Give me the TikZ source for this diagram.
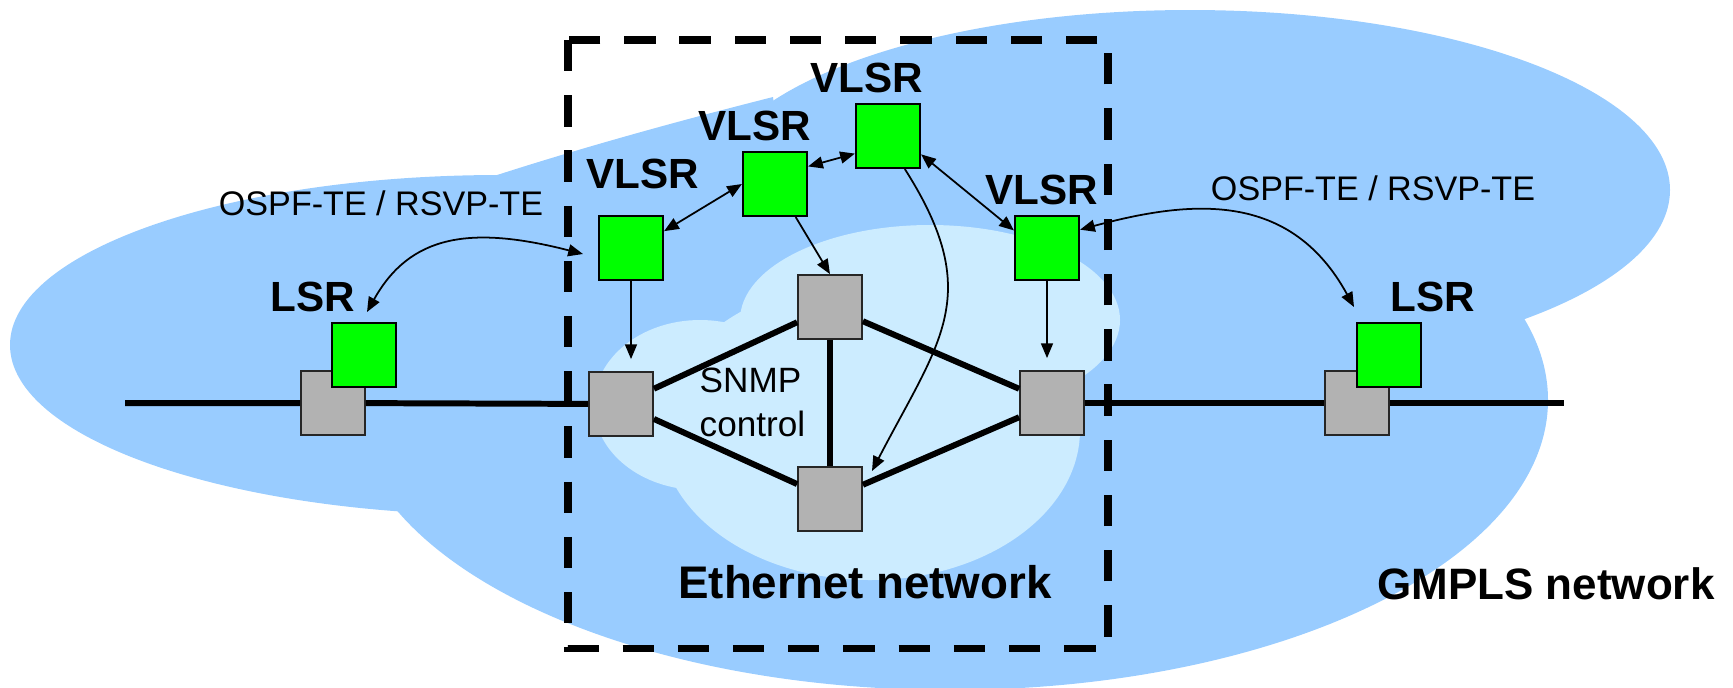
\documentclass[tikz,border=0pt]{standalone}
\usepackage{fontspec}
\setmainfont{Liberation Sans}
\usetikzlibrary{arrows.meta}

\definecolor{gmplsblue}{HTML}{99CCFF}
\definecolor{etherblue}{HTML}{CCECFF}
\definecolor{switchgray}{HTML}{B2B2B2}
\definecolor{routergreen}{HTML}{00FF00}

\tikzset{
  switchbox/.style={draw=black!85, fill=switchgray, line width=0.5pt,
    minimum size=0.64cm, inner sep=0pt},
  routerbox/.style={draw=black, fill=routergreen, line width=0.6pt,
    minimum size=0.64cm, inner sep=0pt},
  boxlabel/.style={font=\fontsize{12}{14}\selectfont\bfseries, anchor=base, inner sep=0pt},
  netlabel/.style={font=\fontsize{12.5}{15}\selectfont\bfseries, anchor=base, inner sep=0pt},
  protolabel/.style={font=\fontsize{9.7}{12}\selectfont, anchor=base, inner sep=0pt},
  link/.style={line width=1.7pt},
  ctrl/.style={line width=0.5pt},
  >={Triangle[length=4.2pt,width=3.4pt]}
}

\begin{document}
\begin{tikzpicture}[x=0.01cm, y=-0.01cm]

    \useasboundingbox (0,0) rectangle (1733,687);
    \clip (0,0) rectangle (1733,687);

    % GMPLS cloud
    \fill[gmplsblue] (500,345) ellipse [x radius=490, y radius=170];
    \fill[gmplsblue] (1190,190) ellipse [x radius=480, y radius=180];
    \fill[gmplsblue] (950,400) ellipse [x radius=598, y radius=290];
    \fill[gmplsblue] (494,176) .. controls (590,145) and (690,118) .. (773,97)
        -- (800,300) -- (500,300) -- cycle;

    % Ethernet cloud
    \fill[etherblue] (700,405) ellipse [x radius=106, y radius=85];
    \fill[etherblue] (930,320) ellipse [x radius=190, y radius=95];
    \fill[etherblue] (870,430) ellipse [x radius=210, y radius=150];

    % dashed border of the Ethernet part
    \draw[line width=2pt, dash pattern=on 8.9pt off 6.8pt] (568,40) rectangle (1108,648);

    % switches
    \node[switchbox] (gl) at (333,403) {};
    \node[switchbox] (e1) at (621,404) {};
    \node[switchbox] (e2) at (830,307) {};
    \node[switchbox] (e3) at (830,499) {};
    \node[switchbox] (e4) at (1052,403) {};
    \node[switchbox] (gr) at (1357,403) {};

    % routers
    \node[routerbox] (ll) at (364,355) {};
    \node[routerbox] (lr) at (1389,355) {};
    \node[routerbox] (v1) at (631,248) {};
    \node[routerbox] (v2) at (775,184) {};
    \node[routerbox] (v3) at (888,136) {};
    \node[routerbox] (v4) at (1047,248) {};

    % labels
    \node[boxlabel] (v1lab) at (643,188) {VLSR};
    \node[boxlabel] (v2lab) at (755,140) {VLSR};
    \node[boxlabel] (v3lab) at (867,92) {VLSR};
    \node[boxlabel] (v4lab) at (1042,204) {VLSR};
    \node[boxlabel] (lllab) at (313,311) {LSR};
    \node[boxlabel] (lrlab) at (1433,311) {LSR};
    \node[protolabel] (pl) at (381,215) {OSPF-TE / RSVP-TE};
    \node[protolabel] (pr) at (1373,200) {OSPF-TE / RSVP-TE};
    \node[font=\fontsize{10}{12.5}\selectfont, align=left, anchor=base west, inner sep=0pt]
        (snmp) at (699,436) {SNMP\\control};
    \node[netlabel, font=\fontsize{13}{15}\selectfont\bfseries] (eth) at (865,598) {Ethernet network};
    \node[netlabel] (gmpls) at (1546,599) {GMPLS network};

    % data links
    \coordinate (wl) at (125,403);
    \coordinate (wr) at (1564,403);
    \draw[link] (wl) -- (gl) -- (e1);
    \draw[link] (e4) -- (gr) -- (wr);
    \draw[link] (e1) -- (e2) -- (e4) -- (e3) -- (e1);
    \draw[link] (e2) -- (e3);

    % control
    \coordinate (lltip) at (367,312);
    \coordinate (dleft) at (583,254);
    \coordinate (lrtip) at (1354,307);
    \coordinate (e3tip) at (872,471);
    \draw[ctrl, <->] (lltip) .. controls (410,235) and (470,225) .. (dleft);
    \draw[ctrl, <->] (v4.29) .. controls (1190,200) and (1290,190) .. (lrtip);
    \draw[ctrl, <->] (v1.27) -- (v2.west);
    \draw[ctrl, <->] (v2.28) -- (v3.208);
    \draw[ctrl, <->] (v3.-29) -- (v4.152);
    \draw[ctrl, ->] (v2.-58) -- (e2.north);
    \draw[ctrl, ->, shorten >=0.12cm] (v1.south) -- (v1.south |- e1.north);
    \draw[ctrl, ->, shorten >=0.12cm] (v4.south) -- (v4.south |- e4.north);
    \draw[ctrl, ->] (v3.-63) .. controls (985,295) and (940,340) .. (e3tip);

\end{tikzpicture}
\end{document}
